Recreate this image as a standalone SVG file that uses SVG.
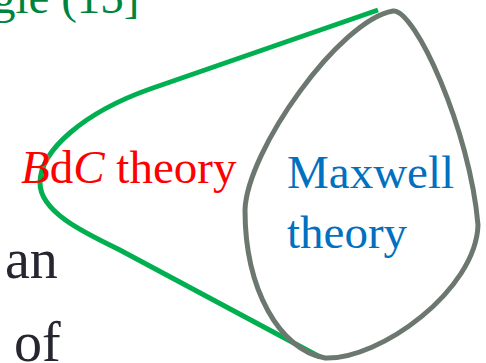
<svg xmlns="http://www.w3.org/2000/svg" width="486" height="363" viewBox="0 0 486 363">
<style>
.t{font-family:"Liberation Serif","Times New Roman",serif;}
.green{fill:none;stroke:#00B050;stroke-width:5;}
.grey{fill:none;stroke:#6B776F;stroke-width:5;}
</style>
<rect width="486" height="363" fill="#ffffff"/>
<text class="t" x="-8" y="13" font-size="47" fill="#00843D">gle (15]</text>
<g id="connectors">
<path id="bdc-boundary" class="green" d="M378,10 L150,89 C85,112 40,150 40,183 C40,212 85,233 118,249 L320,357"/>
</g>
<g id="maxwell">
<path class="grey" d="M393,11 C415,9 470,130 478,225 C476,290 380,360 325,358 C280,350 245,290 245,210 C247,150 340,20 393,11 Z"/>
<text class="t" x="287" y="188" font-size="47" fill="#0070C0">Maxwell</text>
<text class="t" x="287" y="248" font-size="47" fill="#0070C0">theory</text>
</g>
<g id="bdc">
<text class="t" x="21" y="183" font-size="47" fill="#FF0000"><tspan font-style="italic">B</tspan>d<tspan font-style="italic">C</tspan> theory</text>
</g>
<g id="body-text">
<text class="t" x="5" y="278" font-size="56" fill="#262631">an</text>
<text class="t" x="14" y="361" font-size="56" fill="#262631">of</text>
</g>
</svg>
